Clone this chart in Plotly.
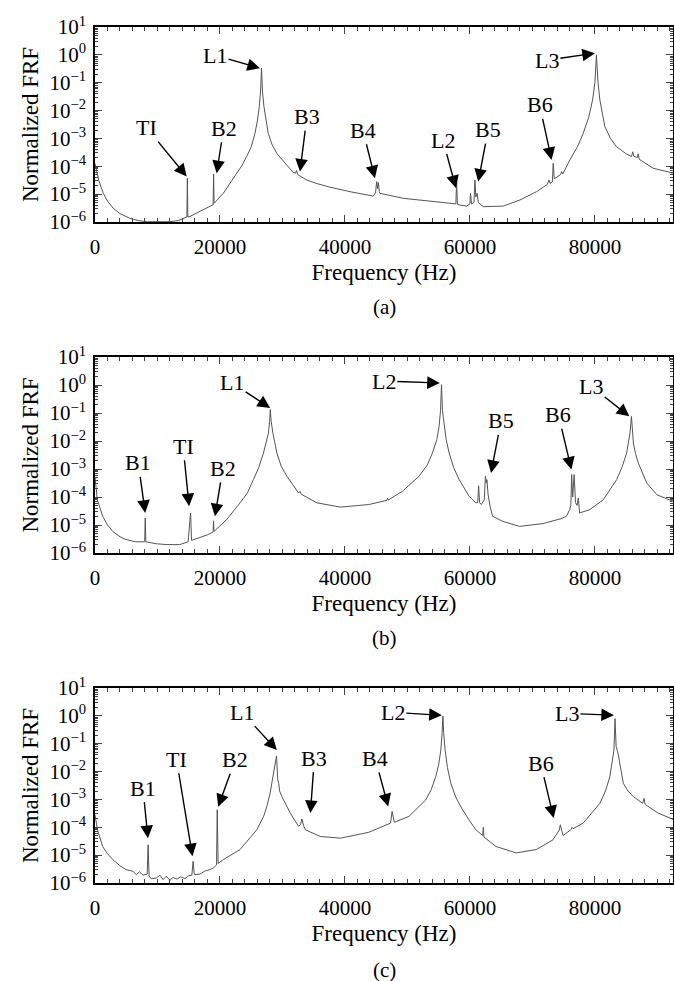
import plotly.graph_objects as go

# ---------------- data (frequency in Hz, log10 of normalized FRF) ----------------
freq_a = [0, 100, 600, 1330, 2000, 2930, 4000, 5600, 7000, 8270, 10000, 12000, 13300, 14130,
          14700, 14780, 14860, 15200, 16500, 17870, 18900, 18980, 19060, 20530, 21500, 22670,
          23500, 24270, 25000, 25600, 26000, 26290, 26500, 26650, 26800, 27040, 27350, 27730,
          28300, 29070, 30670, 31700, 32100, 32250, 32450, 33870, 35500, 37600, 41000, 44530,
          44900, 45070, 45200, 45330, 45500, 45600, 49330, 54670, 57330, 57750, 57870, 58000,
          58400, 59470, 60000, 60100, 60250, 60650, 60800, 60950, 61150, 61350, 62130, 65330,
          68000, 70670, 72400, 72640, 72850, 73200, 73330, 73500, 74500, 74670, 74850, 76000,
          77200, 78130, 79000, 79630, 80000, 80250, 80500, 80800, 81600, 82500, 83470, 85000,
          85870, 86050, 86250, 86800, 86930, 87100, 89330, 92600]
logfrf_a = [-3.9, -4.0, -4.5, -4.97, -5.25, -5.51, -5.7, -5.87, -5.95, -5.99, -6.0, -5.99, -5.95, -5.87,
            -5.82, -4.43, -5.82, -5.8, -5.65, -5.51, -5.38, -4.28, -5.33, -4.97, -4.65, -4.25,
            -3.98, -3.65, -3.3, -2.82, -2.35, -1.86, -1.3, -0.48, -1.3, -1.86, -2.35, -2.82,
            -3.2, -3.53, -3.95, -4.22, -4.25, -4.15, -4.3, -4.49, -4.62, -4.75, -4.92, -5.07,
            -4.95, -4.55, -4.8, -4.58, -4.9, -4.97, -5.15, -5.27, -5.35, -5.35, -4.55, -5.37,
            -5.39, -5.43, -5.35, -4.97, -5.35, -5.3, -4.49, -5.1, -4.97, -5.3, -5.45, -5.43,
            -5.21, -4.91, -4.65, -4.49, -4.62, -4.55, -3.89, -4.45, -4.3, -4.19, -4.28, -3.77,
            -3.3, -2.82, -2.25, -1.62, -1.0, 0.0, -1.0, -1.62, -2.58, -3.0, -3.3, -3.55,
            -3.65, -3.48, -3.65, -3.68, -3.55, -3.75, -4.07, -4.25]

freq_b = [0, 376, 1233, 2000, 2840, 4000, 4985, 6500, 7950, 8040, 8130, 9810, 11500, 13560,
          14900, 15300, 15450, 16780, 18000, 18900, 18970, 19050, 21060, 23210, 24400, 25350,
          26200, 26960, 27500, 27760, 27950, 28050, 28200, 28460, 29100, 29800, 30710, 31700,
          32590, 32800, 33000, 35540, 39290, 43810, 46700, 46800, 46900, 49170, 51850, 53200,
          54000, 54700, 55070, 55300, 55450, 55600, 55870, 56200, 56680, 57400, 58280, 59890,
          60960, 61250, 61390, 61550, 61820, 62300, 62480, 62620, 62720, 62900, 63220, 63640,
          65250, 67930, 71680, 74500, 75440, 75970, 76150, 76280, 76450, 76680, 76900, 77150,
          77350, 77550, 79190, 81330, 83480, 84400, 85080, 85620, 85850, 86050, 86160, 86500,
          86960, 88300, 89910, 93130]
logfrf_b = [-3.3, -4.1, -4.69, -5.0, -5.23, -5.42, -5.52, -5.6, -5.6, -4.75, -5.6, -5.67, -5.7, -5.7,
            -5.6, -4.57, -5.55, -5.46, -5.35, -5.25, -4.85, -5.23, -4.81, -4.21, -3.85, -3.38,
            -2.95, -2.43, -1.95, -1.71, -1.3, -0.88, -1.3, -1.71, -2.43, -2.9, -3.26, -3.6,
            -3.86, -3.8, -3.9, -4.21, -4.36, -4.27, -4.12, -4.05, -4.11, -3.8, -3.26, -2.85,
            -2.43, -1.95, -1.48, -0.9, 0.01, -0.9, -1.48, -1.95, -2.43, -2.95, -3.38, -3.98,
            -4.21, -4.2, -3.6, -4.2, -4.27, -4.1, -3.26, -3.5, -3.38, -3.9, -4.33, -4.69,
            -4.87, -5.05, -4.95, -4.78, -4.69, -4.45, -4.3, -3.2, -4.0, -3.2, -4.2, -4.3,
            -4.04, -4.57, -4.45, -4.1, -3.38, -2.9, -2.43, -1.71, -1.12, -1.9, -2.07, -2.45,
            -2.79, -3.5, -3.92, -4.21]

freq_c = [0, 400, 1230, 2000, 2840, 4000, 4985, 6060, 6600, 7100, 7700, 8350, 8500, 8650, 9000,
          9810, 10400, 10900, 11400, 12000, 12500, 13100, 13700, 14400, 15000, 15500, 15700,
          15900, 16800, 17500, 18390, 19000, 19450, 19560, 19700, 20530, 23210, 25890, 27000,
          27500, 28000, 28300, 28700, 29050, 29250, 29400, 29550, 29910, 31250, 32590, 32900,
          33100, 33400, 33660, 36070, 39290, 43810, 47300, 47550, 47900, 50240, 52920, 53800,
          54530, 55000, 55340, 55550, 55680, 55800, 56030, 56400, 56940, 57800, 58820, 59900,
          60960, 62050, 62140, 62250, 64180, 67400, 70610, 73290, 74300, 74470, 74700, 74900,
          76200, 76350, 76500, 78120, 80800, 81700, 82400, 82850, 83050, 83220, 83400, 83580,
          83750, 84550, 85300, 86160, 87660, 87870, 88050, 90110, 93330]
logfrf_c = [-3.55, -4.1, -4.69, -4.95, -5.16, -5.38, -5.52, -5.58, -5.7, -5.6, -5.72, -5.68, -4.63, -5.75, -5.85,
            -5.82, -5.72, -5.88, -5.76, -5.9, -5.8, -5.86, -5.78, -5.84, -5.74, -5.72, -5.22,
            -5.7, -5.68, -5.58, -5.52, -5.45, -5.35, -3.37, -5.3, -5.16, -4.8, -4.09, -3.6,
            -3.26, -2.8, -2.42, -1.9, -1.44, -2.3, -2.42, -2.7, -2.9, -3.49, -3.97, -3.9,
            -3.7, -3.95, -4.09, -4.33, -4.39, -4.18, -3.85, -3.43, -3.82, -3.61, -3.02, -2.65,
            -2.18, -1.75, -1.23, -0.6, -0.01, -0.6, -1.23, -1.85, -2.42, -2.95, -3.37, -3.75,
            -4.09, -4.3, -4.0, -4.35, -4.69, -4.92, -4.8, -4.45, -4.1, -3.91, -4.2, -4.3,
            -4.08, -4.0, -4.05, -3.85, -3.14, -2.7, -2.18, -1.6, -1.23, -0.1, -1.1, -1.23,
            -1.4, -2.42, -2.7, -2.9, -3.14, -2.96, -3.18, -3.49, -3.79]

# peak labels: (text, frequency of arrow tip, log10 FRF of arrow tip)
labels_a = [("TI", 14670, -4.37), ("B2", 19470, -4.25), ("L1", 26400, -0.48), ("B3", 32800, -4.19),
            ("B4", 44800, -4.43), ("L2", 57760, -4.78), ("B5", 61330, -4.55), ("B6", 73070, -3.77),
            ("L3", 80000, 0.06)]
offsets_a = [(-40, -49), (7, -45), (-45, -13), (7, -55), (-12, -48), (-13, -48), (10, -52), (-12, -55), (-48, 7)]

labels_b = [("B1", 8040, -4.57), ("TI", 15060, -4.33), ("B2", 19190, -4.69), ("L1", 28030, -0.82),
            ("L2", 55180, 0.07), ("B5", 63380, -3.14), ("B6", 76240, -3.02), ("L3", 85510, -1.12)]
offsets_b = [(-7, -50), (-6, -60), (8, -48), (-38, -25), (-56, -2), (10, -52), (-13, -55), (-38, -30)]

labels_c = [("B1", 8470, -4.39), ("TI", 15600, -5.04), ("B2", 19720, -3.26), ("L1", 29100, -1.23),
            ("B3", 34470, -3.49), ("B4", 46920, -3.25), ("L2", 55500, 0.02), ("B6", 73400, -3.67),
            ("L3", 83050, 0.02)]
offsets_c = [(-5, -50), (-16, -97), (17, -47), (-35, -38), (4, -55), (-13, -48), (-49, -3), (-13, -55), (-47, -2)]

panel_tags = ["(a)", "(b)", "(c)"]
xtick_vals = [0, 20000, 40000, 60000, 80000]
ytick_exps = [-6, -5, -4, -3, -2, -1, 0, 1]
ytick_text = ["10<sup>%s</sup>" % (str(e).replace("-", "\u2212")) for e in ytick_exps]

# ---------------- figure ----------------
FONT = "Liberation Serif, DejaVu Serif, Times New Roman, serif"
W, H = 674, 981
ML, MR = 95, 1
panels_px = [(27, 222), (357, 553), (688, 883)]   # top/bottom pixel of each plot area
tag_px = [307, 638, 970]

fig = go.Figure()
series = [(freq_a, logfrf_a), (freq_b, logfrf_b), (freq_c, logfrf_c)]
all_labels = [(labels_a, offsets_a), (labels_b, offsets_b), (labels_c, offsets_c)]

layout = dict(
    width=W, height=H, margin=dict(l=ML, r=MR, t=0, b=0, autoexpand=False),
    paper_bgcolor="white", plot_bgcolor="white", showlegend=False,
    font=dict(family=FONT, size=20, color="black"),
)
annotations = []
for i, (fx, lv) in enumerate(series):
    sfx = "" if i == 0 else str(i + 1)
    fig.add_trace(go.Scatter(x=fx, y=[10 ** v for v in lv], mode="lines",
                             line=dict(color="#555555", width=1),
                             xaxis="x" + sfx, yaxis="y" + sfx, hoverinfo="skip"))
    top, bot = panels_px[i]
    dom = [1 - bot / H, 1 - top / H]
    layout["xaxis" + sfx] = dict(
        domain=[0, 1], anchor="y" + sfx, range=[0, 92500], automargin=False,
        tickvals=xtick_vals, tickformat="d", ticks="inside", ticklen=7, tickwidth=1.2,
        ticklabelstandoff=5,
        minor=dict(dtick=2000, ticks="inside", ticklen=4, tickwidth=1, showgrid=False),
        showline=True, linecolor="black", linewidth=1.5, mirror="allticks",
        showgrid=False, zeroline=False, tickfont=dict(size=21),
        title=dict(text="Frequency (Hz)", font=dict(size=23), standoff=6),
    )
    layout["yaxis" + sfx] = dict(
        domain=dom, anchor="x" + sfx, type="log", range=[-6, 1], automargin=False,
        tickvals=[10 ** e for e in ytick_exps], ticktext=ytick_text,
        ticks="inside", ticklen=7, tickwidth=1.2, ticklabelstandoff=3,
        minor=dict(dtick="D1", ticks="inside", ticklen=3, tickwidth=1, showgrid=False),
        showline=True, linecolor="black", linewidth=1.5, mirror="allticks",
        showgrid=False, zeroline=False, tickfont=dict(size=21),
        title=dict(text="Normalized FRF", font=dict(size=23), standoff=4),
    )
    labs, offs = all_labels[i]
    for (txt, fx_tip, ly_tip), (ax, ay) in zip(labs, offs):
        annotations.append(dict(
            x=fx_tip, y=ly_tip, xref="x" + sfx, yref="y" + sfx, text=txt,
            showarrow=True, arrowhead=2, arrowsize=1.8, arrowwidth=1.4, arrowcolor="black",
            ax=ax, ay=ay, font=dict(size=22, family=FONT, color="black"),
        ))
    annotations.append(dict(
        x=(384 - ML) / (W - ML - MR), y=1 - tag_px[i] / H, xref="paper", yref="paper",
        text=panel_tags[i], showarrow=False, font=dict(size=21, family=FONT, color="black"),
        xanchor="center", yanchor="middle",
    ))

layout["annotations"] = annotations
fig.update_layout(**layout)
fig.write_html("out.html", config={"displayModeBar": False},
               post_script="document.body.style.margin='0';document.body.style.overflow='hidden';")
